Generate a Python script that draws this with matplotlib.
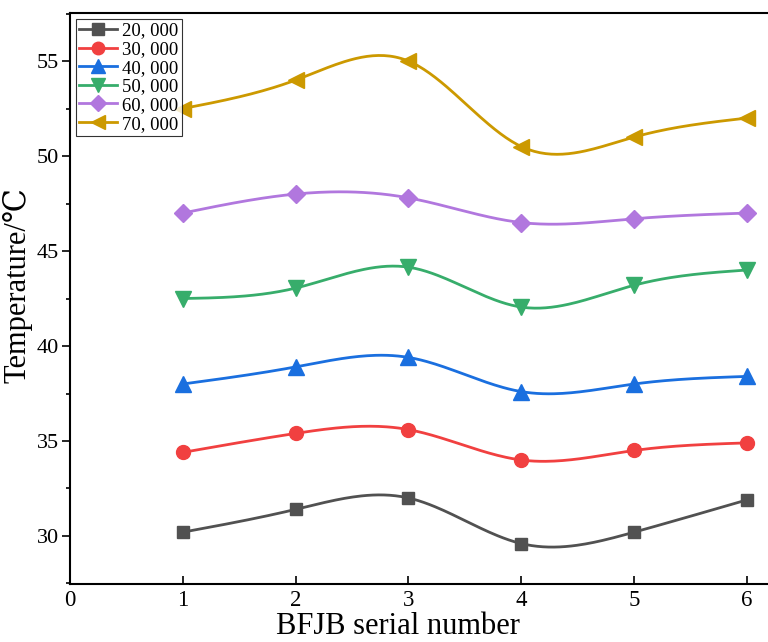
import numpy as np
import matplotlib.pyplot as plt
from matplotlib.ticker import MultipleLocator

# serial numbers and temperatures per series
serial = [1, 2, 3, 4, 5, 6]
labels = ["20, 000", "30, 000", "40, 000", "50, 000", "60, 000", "70, 000"]
t20 = [30.2, 31.4, 32.0, 29.6, 30.2, 31.9]
t30 = [34.4, 35.4, 35.6, 34.0, 34.5, 34.9]
t40 = [38.0, 38.9, 39.4, 37.6, 38.0, 38.4]
t50 = [42.5, 43.05, 44.15, 42.05, 43.2, 44.0]
t60 = [47.0, 48.0, 47.8, 46.5, 46.7, 47.0]
t70 = [52.5, 54.0, 55.0, 50.5, 51.0, 52.0]

colors = ["#515151", "#F14040", "#1A6FDF", "#37AD6B", "#B177DE", "#CC9900"]
markers = ["s", "o", "^", "v", "D", "<"]
msizes = [9, 10, 11, 11, 9, 11]


def natural_spline(x, y, n=200):
    # plain natural cubic spline, like the smooth line in Origin
    x = np.asarray(x, float)
    y = np.asarray(y, float)
    k = len(x)
    h = np.diff(x)
    A = np.zeros((k, k))
    b = np.zeros(k)
    A[0, 0] = A[-1, -1] = 1
    for i in range(1, k - 1):
        A[i, i - 1] = h[i - 1]
        A[i, i] = 2 * (h[i - 1] + h[i])
        A[i, i + 1] = h[i]
        b[i] = 3 * ((y[i + 1] - y[i]) / h[i] - (y[i] - y[i - 1]) / h[i - 1])
    c = np.linalg.solve(A, b)
    xs = np.linspace(x[0], x[-1], n)
    idx = np.clip(np.searchsorted(x, xs) - 1, 0, k - 2)
    dx = xs - x[idx]
    bb = (y[idx + 1] - y[idx]) / h[idx] - h[idx] * (2 * c[idx] + c[idx + 1]) / 3
    dd = (c[idx + 1] - c[idx]) / (3 * h[idx])
    ys = y[idx] + bb * dx + c[idx] * dx ** 2 + dd * dx ** 3
    return xs, ys


plt.rcParams["font.family"] = ["Liberation Serif", "DejaVu Serif"]

fig = plt.figure(figsize=(7.68, 6.42), dpi=100)
ax = fig.add_axes([0.0911, 0.0903, 0.9256, 0.8894])

for ys, lab, col, mk, ms in zip([t20, t30, t40, t50, t60, t70], labels, colors, markers, msizes):
    sx, sy = natural_spline(serial, ys)
    ax.plot(sx, sy, color=col, lw=2)
    ax.plot(serial, ys, linestyle="none", marker=mk, ms=ms, color=col)
    ax.plot([], [], color=col, lw=2, marker=mk, ms=ms - 1, label=lab)

ax.set_xlim(0, 6.3)
ax.set_ylim(27.47, 57.53)
ax.set_xticks([0, 1, 2, 3, 4, 5, 6])
ax.yaxis.set_major_locator(MultipleLocator(5))
ax.yaxis.set_minor_locator(MultipleLocator(2.5))
ax.tick_params(axis="x", direction="in", length=6, width=1.2, labelsize=16.5, pad=4)
ax.tick_params(axis="y", which="major", direction="out", length=6, width=1.2, labelsize=16, pad=2)
ax.tick_params(axis="y", which="minor", direction="out", length=3, width=1.2)
for sp in ax.spines.values():
    sp.set_linewidth(1.5)

ax.set_xlabel("BFJB serial number", fontsize=22)
ax.set_ylabel("Temperature/℃", fontsize=22)
ax.xaxis.set_label_coords(0.461, -0.049)
ax.yaxis.set_label_coords(-0.053, 0.524)

leg = ax.legend(loc="upper left", fontsize=13.5, frameon=True, fancybox=False,
                edgecolor="black", handlelength=2.0, borderpad=0.2,
                labelspacing=0.08, handletextpad=0.3, borderaxespad=0.3)
leg.get_frame().set_linewidth(0.8)

plt.savefig("out.png", dpi=100)
